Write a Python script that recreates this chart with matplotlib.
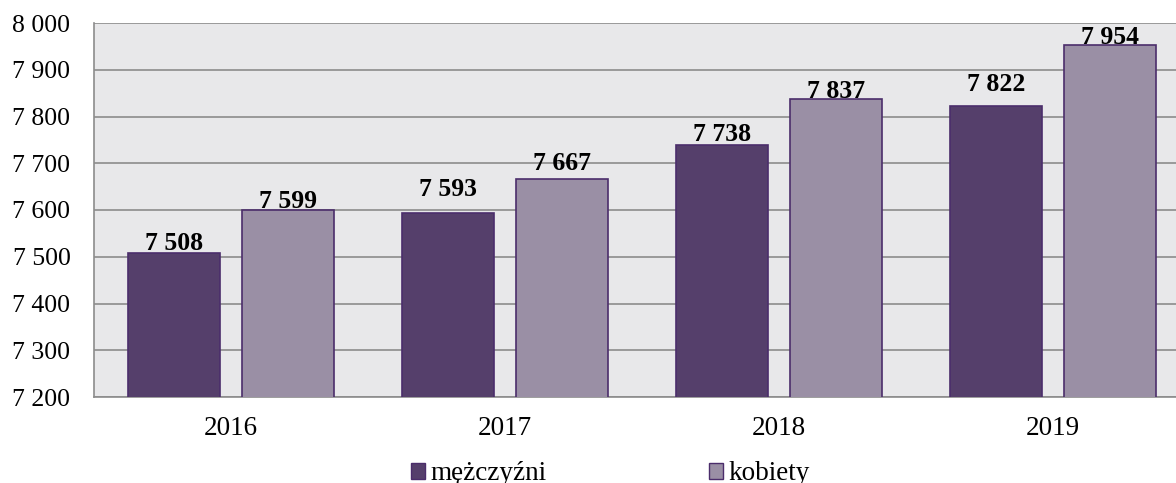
import numpy as np
import matplotlib.pyplot as plt
from matplotlib.patches import Patch

years = ['2016', '2017', '2018', '2019']
men = [7508, 7593, 7738, 7822]
women = [7599, 7667, 7837, 7954]
yticks = [7200, 7300, 7400, 7500, 7600, 7700, 7800, 7900, 8000]

# gap (px) between bar top and label baseline, labels were nudged by hand in the original
men_gap = [3, 17, 4, 15]
women_gap = [2, 9, 1, 1]


def fmt(v):
    return f'{v:,}'.replace(',', ' ')


plt.rcParams['font.family'] = ['Liberation Serif', 'DejaVu Serif']

fig = plt.figure(figsize=(11.76, 4.83), dpi=100)
# plot area runs a bit past the right edge, as in the original
ax = fig.add_axes([94 / 1176, 1 - 397 / 483, 1096 / 1176, 374 / 483])
ax.set_facecolor('#E8E8EA')

x = np.arange(len(years)) + 0.5
w = 0.336
off = 0.208
b1 = ax.bar(x - off, men, w, color='#553F6B', edgecolor='#4B2D6B', linewidth=1.2, zorder=3)
b2 = ax.bar(x + off, women, w, color='#9A8FA5', edgecolor='#4B2D6B', linewidth=1.2, zorder=3)

for bars, vals, gaps in ((b1, men, men_gap), (b2, women, women_gap)):
    for r, v, g in zip(bars, vals, gaps):
        ax.annotate(fmt(v), (r.get_x() + r.get_width() / 2, v), xytext=(0, g * 0.72),
                    textcoords='offset points', ha='center', va='baseline',
                    fontsize=18.5, fontweight='bold', zorder=4)

ax.set_xlim(0, 4)
ax.set_ylim(7200, 8000)
ax.set_yticks(yticks)
ax.set_yticklabels([fmt(t) for t in yticks], fontsize=18.5)
ax.set_xticks(x)
ax.set_xticklabels(years, fontsize=19.5)
ax.tick_params(axis='both', length=0)
ax.tick_params(axis='y', pad=17)
ax.tick_params(axis='x', pad=14)
ax.yaxis.grid(True, color='#8C8C8C', linewidth=1.2, zorder=0)
for s in ['top', 'right']:
    ax.spines[s].set_visible(False)
for s in ['left', 'bottom']:
    ax.spines[s].set_color('#8C8C8C')
    ax.spines[s].set_linewidth(1.2)

handles = [Patch(facecolor='#553F6B', edgecolor='#4B2D6B', label='mężczyźni'),
           Patch(facecolor='#9A8FA5', edgecolor='#4B2D6B', label='kobiety')]
fig.legend(handles=handles, loc='center', bbox_to_anchor=(0.519, 1 - 474 / 483),
           ncol=2, frameon=False, fontsize=19.5, handlelength=0.52, handleheight=0.52,
           handletextpad=0.2, columnspacing=6.0, borderpad=0)

fig.savefig('out.png', dpi=100)
